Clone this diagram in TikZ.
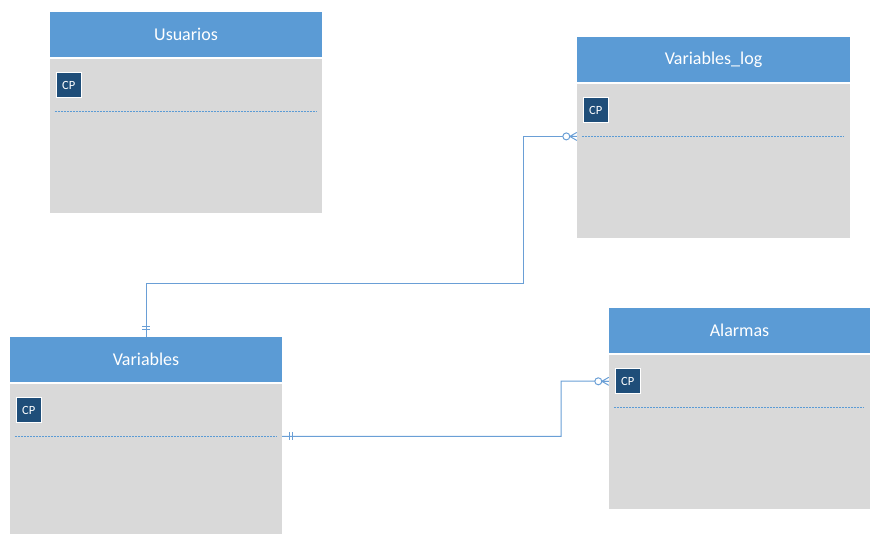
\documentclass[tikz,border=0pt]{standalone}
\usepackage{fontspec}
\setmainfont{Carlito}
\usetikzlibrary{positioning}
\definecolor{hdrblue}{HTML}{5B9BD5}
\definecolor{bodygray}{HTML}{D9D9D9}
\definecolor{cpblue}{HTML}{1F4E79}
\definecolor{relblue}{HTML}{6A9FD6}

\tikzset{
  zeromany/.pic={
    \draw[rel] (-7,0) -- (0,-4) (-7,0) -- (0,0) (-7,0) -- (0,4);
    \draw[rel, fill=white] (-10.5,0) circle[radius=3.5pt];
  },
  barsv/.pic={
    \draw[rel] (-4,-8) -- (4,-8) (-4,-11) -- (4,-11);
  },
  barsh/.pic={
    \draw[rel] (7,-4) -- (7,4) (10,-4) -- (10,4);
  }
}

\begin{document}
\begin{tikzpicture}[x=1pt, y=-1pt,
    hdr/.style={fill=hdrblue, text=white, minimum height=45pt, inner sep=0pt,
      anchor=north, font=\fontsize{18}{21}\selectfont},
    tblbody/.style={fill=bodygray, minimum height=154pt, inner sep=0pt},
    cp/.style={fill=cpblue, draw=white, line width=0.8pt, text=white,
      minimum size=25pt, inner sep=0pt, font=\fontsize{12.5}{14}\selectfont},
    dotline/.style={draw=hdrblue, line width=1pt, dash pattern=on 2pt off 1pt},
    rel/.style={draw=relblue, line width=1pt}]
  \useasboundingbox (0,0) rectangle (870,533);
  % tables
  \foreach \nm/\cx/\ty/\w/\lbl in {usr/186/12/272/Usuarios,
      vlog/713.5/37/273/Variables\_log, vars/146/337/272/Variables,
      alm/739.5/308/261/Alarmas} {
    \node[hdr, minimum width=\w pt] (\nm-h) at (\cx,\ty) {\lbl};
    \node[tblbody, minimum width=\w pt, below=1pt of \nm-h] (\nm-b) {};
    \node[cp, below right=14pt and 6pt of \nm-b.north west] (\nm-cp) {CP};
    \coordinate (\nm-dot) at ([xshift=5pt,yshift=-53pt]\nm-b.north west);
    \draw[dotline] (\nm-dot) -- ([xshift=-6pt]\nm-dot -| \nm-b.east);
  }
  % relations
  \draw[rel] (vars-h.north) |- (523,283) |- (vlog-dot -| vlog-b.west);
  \draw[rel] (vars-dot -| vars-b.east) -| (561,381) -- (alm-b.west |- alm-cp);
  \path (vars-h.north) pic {barsv};
  \path (vars-dot -| vars-b.east) pic {barsh};
  \path (vlog-dot -| vlog-b.west) pic {zeromany};
  \path (alm-b.west |- alm-cp) pic {zeromany};
\end{tikzpicture}
\end{document}
